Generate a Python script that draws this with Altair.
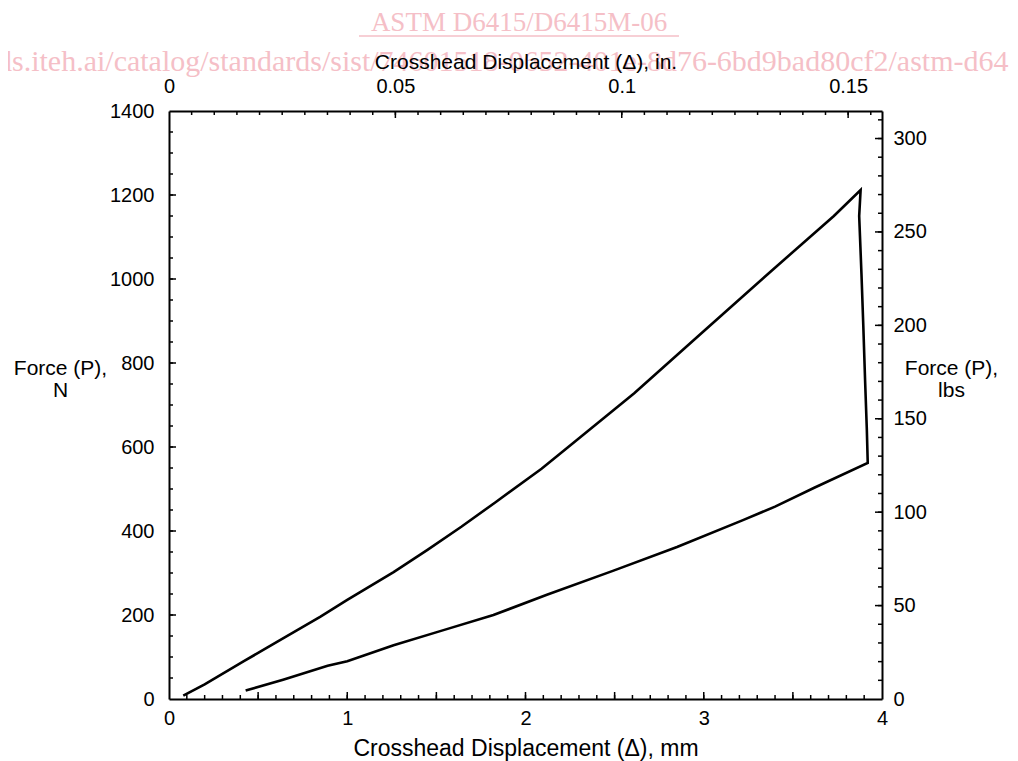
import altair as alt
import pandas as pd
import numpy as np

# ---- data ----
# loading branch (mm, N)
load_mm = [0.08, 0.20, 0.42, 0.63, 0.85, 1.00, 1.26, 1.45, 1.64, 1.83, 2.09, 2.24, 2.61, 2.99, 3.36, 3.73, 3.88]
load_N = [8, 35, 90, 142, 196, 236, 302, 355, 410, 468, 548, 600, 728, 872, 1012, 1150, 1212]
# sudden load drop
drop_mm = [3.872, 3.885, 3.895, 3.905, 3.915, 3.92]
drop_N = [1150, 1010, 890, 760, 640, 562]
# unloading branch
unload_mm = [3.62, 3.40, 3.22, 2.85, 2.49, 2.12, 1.82, 1.54, 1.26, 1.00, 0.89, 0.64, 0.43]
unload_N = [503, 458, 426, 362, 305, 248, 200, 164, 128, 90, 79, 46, 20]

mm_labels = [0, 1, 2, 3, 4]
N_labels = [0, 200, 400, 600, 800, 1000, 1200, 1400]
in_labels = [0, 0.05, 0.1, 0.15]
lbs_labels = [0, 50, 100, 150, 200, 250, 300]

watermark_title = ["ASTM D6415/D6415M-06"]
watermark_url = ["ds.iteh.ai/catalog/standards/sist/74601518-0652-401e-8d76-6bd9bad80cf2/astm-d6415-d6415m-06"]

MM_MAX = 4.0
N_MAX = 1400.0
IN_MAX = MM_MAX / 25.4
LBS_MAX = N_MAX / 4.4482216

W, H = 713, 588
FONT = "Liberation Sans"
SERIF = "Liberation Serif"
PINK = "#f5bfc7"

xs = load_mm + drop_mm + unload_mm
ys = load_N + drop_N + unload_N
curve = pd.DataFrame({"mm": xs, "N": ys, "seq": list(range(len(xs)))})

x_mm = alt.Scale(domain=[0, MM_MAX], nice=False, zero=False)
y_N = alt.Scale(domain=[0, N_MAX], nice=False, zero=False)
x_in = alt.Scale(domain=[0, IN_MAX], nice=False, zero=False)
y_lbs = alt.Scale(domain=[0, LBS_MAX], nice=False, zero=False)

common_axis = dict(ticks=False, grid=False, domainColor="black", domainWidth=2,
                   labelFont=FONT, labelFontSize=20, labelColor="black", labelFlush=False,
                   titleFont=FONT, titleFontWeight="normal", titleColor="black",
                   zindex=1)

line = alt.Chart(curve).mark_line(color="black", strokeWidth=2.6).encode(
    x=alt.X("mm:Q", scale=x_mm,
            axis=alt.Axis(orient="bottom", values=mm_labels, format="d",
                          title="Crosshead Displacement (Δ), mm", titleFontSize=23,
                          labelPadding=9, titlePadding=9, **common_axis)),
    y=alt.Y("N:Q", scale=y_N,
            axis=alt.Axis(orient="left", values=N_labels, format="d",
                          title=["Force (P),", "N"], titleFontSize=21, titleAngle=0, titleAlign="center",
                          titleBaseline="top", titleX=-109, titleY=246, titleLineHeight=22,
                          labelPadding=15, **common_axis)),
    order="seq:Q",
)

sec = pd.DataFrame({"inch": [0, IN_MAX], "lbs": [0, LBS_MAX]})
second = alt.Chart(sec).mark_point(opacity=0).encode(
    x=alt.X("inch:Q", scale=x_in,
            axis=alt.Axis(orient="top", values=in_labels, format="~g",
                          title="Crosshead Displacement (Δ), in.", titleFontSize=21,
                          labelPadding=15, titlePadding=4, **common_axis)),
    y=alt.Y("lbs:Q", scale=y_lbs,
            axis=alt.Axis(orient="right", values=lbs_labels, format="d",
                          title=["Force (P),", "lbs"], titleFontSize=21, titleAngle=0, titleAlign="center",
                          titleBaseline="top", titleX=69, titleY=246, titleLineHeight=22,
                          labelPadding=11, **common_axis)),
)


def xticks(values, scale, side, length):
    df = pd.DataFrame({"v": values})
    y0 = H if side == "bottom" else 0
    y1 = H - length if side == "bottom" else length
    return alt.Chart(df).mark_rule(color="black", strokeWidth=1.5).encode(
        x=alt.X("v:Q", scale=scale, axis=None),
        y=alt.value(y0), y2=alt.value(y1))


def yticks(values, scale, side, length):
    df = pd.DataFrame({"v": values})
    x0 = 0 if side == "left" else W
    x1 = length if side == "left" else W - length
    return alt.Chart(df).mark_rule(color="black", strokeWidth=1.5).encode(
        y=alt.Y("v:Q", scale=scale, axis=None),
        x=alt.value(x0), x2=alt.value(x1))


mm_minor = [round(0.1 * i, 2) for i in range(1, 40)]
mm_major = [0.5, 1.0, 1.5, 2.0, 2.5, 3.0, 3.5]
in_minor = [round(0.005 * i, 3) for i in range(1, 32)]
in_major = [0.05, 0.1, 0.15]
N_minor = [50 * i for i in range(1, 28)]
N_major = [200, 400, 600, 800, 1000, 1200]
lbs_minor = [10 * i for i in range(1, 32)]
lbs_major = [50, 100, 150, 200, 250, 300]

tick_layers = [
    xticks(mm_minor, x_mm, "bottom", 4), xticks(mm_major, x_mm, "bottom", 7),
    xticks(in_minor, x_in, "top", 4), xticks(in_major, x_in, "top", 7),
    yticks(N_minor, y_N, "left", 4), yticks(N_major, y_N, "left", 7),
    yticks(lbs_minor, y_lbs, "right", 4), yticks(lbs_major, y_lbs, "right", 7),
]

wm1 = alt.Chart(pd.DataFrame({"t": watermark_title})).mark_text(
    font=SERIF, fontSize=27, color=PINK, align="center", baseline="middle").encode(
    text="t:N", x=alt.value(350), y=alt.value(-88))
wm_line = alt.Chart(pd.DataFrame({"t": watermark_title})).mark_rule(color=PINK, strokeWidth=1.5).encode(
    x=alt.value(190), x2=alt.value(510), y=alt.value(-75))
wm2 = alt.Chart(pd.DataFrame({"t": watermark_url})).mark_text(
    font=SERIF, fontSize=30, color=PINK, align="left", baseline="middle").encode(
    text="t:N", x=alt.value(-172), y=alt.value(-49))

chart = alt.layer(wm1, wm_line, wm2, line, second, *tick_layers).resolve_scale(
    x="independent", y="independent"
).properties(
    width=W, height=H,
    autosize=alt.AutoSizeParams(type="none"),
    padding={"left": 161, "top": 103, "right": 128, "bottom": 62},
    background="white",
).configure_view(stroke=None)

chart.save("out.html", embed_options={"renderer": "svg", "actions": False})
